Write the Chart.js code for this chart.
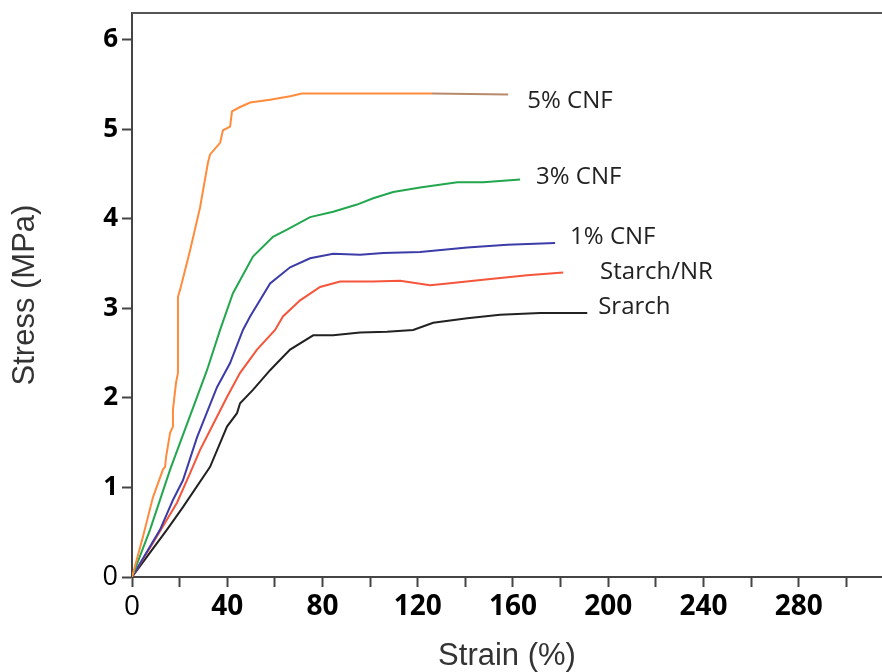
<!DOCTYPE html>
<html lang="en">

<head>
  <meta charset="utf-8">
  <title>Stress-strain curves</title>
  <script src="https://cdn.jsdelivr.net/npm/chart.js@4.4.0/dist/chart.umd.min.js"></script>
  <style>
    html, body { margin: 0; padding: 0; background: #fff; }
    .kontainer { width: 882px; height: 672px; }
  </style>
</head>

<body>
  <div class="kontainer">
    <canvas id="myChart" width="882" height="672"></canvas>
  </div>

  <script>
    // curve values (strain %, stress MPa)
    const cnf5Strain = [0, 4.6, 8.8, 13.0, 13.9, 14.3, 16.0, 17.2, 17.2, 18.5, 19.3, 19.3, 20.2, 22.3, 24.4, 28.6, 31.9, 32.8, 37.0, 38.2, 41.2, 42.0, 45.4, 49.6, 58.0, 66.4, 71.4, 126, 158];
    const cnf5Stress = [0, 0.45, 0.89, 1.20, 1.23, 1.34, 1.61, 1.68, 1.87, 2.17, 2.28, 3.13, 3.21, 3.43, 3.65, 4.13, 4.63, 4.72, 4.85, 4.99, 5.03, 5.20, 5.25, 5.30, 5.33, 5.37, 5.40, 5.40, 5.39];

    const cnf3Strain = [0, 7.6, 16.0, 27.3, 31.5, 37.0, 42.4, 50.8, 59.2, 65.1, 74.8, 84.5, 94.5, 101.3, 109.7, 121.0, 136.6, 147.5, 163.0];
    const cnf3Stress = [0, 0.53, 1.20, 2.01, 2.31, 2.76, 3.17, 3.58, 3.80, 3.88, 4.02, 4.08, 4.16, 4.23, 4.30, 4.35, 4.41, 4.41, 4.44];

    const cnf1Strain = [0, 11.8, 17.2, 21.4, 27.3, 35.7, 41.2, 46.6, 49.6, 58.0, 66.4, 74.8, 84.5, 95.8, 105.5, 121.0, 140.8, 157.6, 177.7];
    const cnf1Stress = [0, 0.53, 0.86, 1.08, 1.56, 2.12, 2.39, 2.76, 2.91, 3.28, 3.46, 3.56, 3.61, 3.60, 3.62, 3.63, 3.68, 3.71, 3.73];

    const nrStrain = [0, 8.8, 18.9, 24.4, 28.6, 32.8, 39.9, 45.4, 52.5, 60.1, 63.4, 70.6, 79.0, 87.4, 101.3, 112.6, 125.2, 133.6, 147.5, 166.0, 181.1];
    const nrStress = [0, 0.38, 0.83, 1.16, 1.42, 1.64, 2.01, 2.28, 2.54, 2.76, 2.91, 3.09, 3.24, 3.30, 3.30, 3.31, 3.26, 3.28, 3.32, 3.37, 3.40];

    const starchStrain = [0, 14.7, 21.4, 32.8, 39.9, 44.1, 45.4, 50.8, 58.0, 60.9, 66.4, 76.1, 84.5, 95.8, 107.1, 118.1, 126.5, 140.8, 154.6, 171.4, 191.2];
    const starchStress = [0, 0.53, 0.78, 1.23, 1.68, 1.83, 1.94, 2.09, 2.31, 2.39, 2.54, 2.70, 2.70, 2.73, 2.74, 2.76, 2.84, 2.89, 2.93, 2.95, 2.95];

    const curveNames = ['5% CNF', '3% CNF', '1% CNF', 'Starch/NR', 'Srarch'];
    // where each name is written, in data units
    const nameAt = [[166, 5.32], [169.7, 4.47], [184, 3.80], [196.6, 3.41], [195.8, 3.01]];

    const yTicks = [0, 1, 2, 3, 4, 5, 6];
    const xTicks = [0, 20, 40, 60, 80, 100, 120, 140, 160, 180, 200, 220, 240, 260, 280, 300];

    const pts = (xs, ys) => xs.map((x, i) => ({ x: x, y: ys[i] }));
    const fam = '"Open Sans", sans-serif';

    const curveLabels = {
      id: 'curveLabels',
      afterDatasetsDraw(chart) {
        const c = chart.ctx;
        const xs = chart.scales.x, ys = chart.scales.y;
        c.save();
        c.font = '24px ' + fam;
        c.fillStyle = '#222';
        c.textBaseline = 'middle';
        c.textAlign = 'left';
        curveNames.forEach((n, i) => {
          c.fillText(n, xs.getPixelForValue(nameAt[i][0]), ys.getPixelForValue(nameAt[i][1]));
        });
        // top frame line
        const a = chart.chartArea;
        c.strokeStyle = '#555';
        c.lineWidth = 2;
        c.beginPath();
        c.moveTo(a.left, a.top);
        c.lineTo(a.right, a.top);
        c.stroke();
        c.restore();
      }
    };

    const ctx = document.getElementById('myChart').getContext('2d');
    const myChart = new Chart(ctx, {
      type: 'line',
      data: {
        datasets: [{
          label: curveNames[0],
          data: pts(cnf5Strain, cnf5Stress),
          borderColor: '#ff8c3c',
          segment: {
            borderColor: c => c.p0.parsed.x >= 125 ? '#b88a6c' : undefined
          }
        }, {
          label: curveNames[1],
          data: pts(cnf3Strain, cnf3Stress),
          borderColor: '#22a64e'
        }, {
          label: curveNames[2],
          data: pts(cnf1Strain, cnf1Stress),
          borderColor: '#3c3ca8'
        }, {
          label: curveNames[3],
          data: pts(nrStrain, nrStress),
          borderColor: '#f5553a'
        }, {
          label: curveNames[4],
          data: pts(starchStrain, starchStress),
          borderColor: '#222222'
        }]
      },
      options: {
        responsive: false,
        animation: false,
        layout: { padding: { top: 13, right: 0, left: 0, bottom: 0 } },
        elements: {
          point: { radius: 0 },
          line: { borderWidth: 2, tension: 0 }
        },
        plugins: {
          legend: { display: false },
          tooltip: { enabled: false }
        },
        scales: {
          x: {
            type: 'linear',
            min: 0,
            max: 315,
            afterFit: s => { s.height = 95; },
            afterBuildTicks: s => { s.ticks = xTicks.map(v => ({ value: v })); },
            border: { color: '#444', width: 2 },
            grid: { drawOnChartArea: false, tickLength: 10, tickColor: '#444', tickWidth: 2 },
            ticks: {
              autoSkip: false,
              maxRotation: 0,
              padding: 5,
              color: '#000',
              callback: v => v % 40 === 0 ? String(v) : '',
              font: c => c.tick && c.tick.value === 0
                ? { family: fam, size: 28, weight: 'normal', lineHeight: 1.1 }
                : { family: fam, size: 28, weight: 'bold', lineHeight: 1.1 }
            },
            title: {
              display: true,
              text: 'Strain (%)',
              color: '#333',
              padding: 0,
              font: { family: '"Liberation Sans", Arial, sans-serif', size: 31, lineHeight: 1 }
            }
          },
          y: {
            min: 0,
            max: 6.3,
            afterFit: s => { s.width = 132; s.paddingTop = 0; },
            afterBuildTicks: s => { s.ticks = yTicks.map(v => ({ value: v })); },
            border: { color: '#444', width: 2 },
            grid: { drawOnChartArea: false, tickLength: 10, tickColor: '#444', tickWidth: 2 },
            ticks: {
              padding: 4,
              color: '#000',
              font: c => c.tick && c.tick.value === 0
                ? { family: fam, size: 27, weight: 'normal', lineHeight: 1 }
                : { family: fam, size: 26, weight: 'bold', lineHeight: 1 }
            },
            title: {
              display: true,
              text: 'Stress (MPa)',
              color: '#333',
              padding: { top: 10, bottom: 0 },
              font: { family: '"Liberation Sans", Arial, sans-serif', size: 31, lineHeight: 1 }
            }
          }
        }
      },
      plugins: [curveLabels]
    });
  </script>

</body>

</html>
